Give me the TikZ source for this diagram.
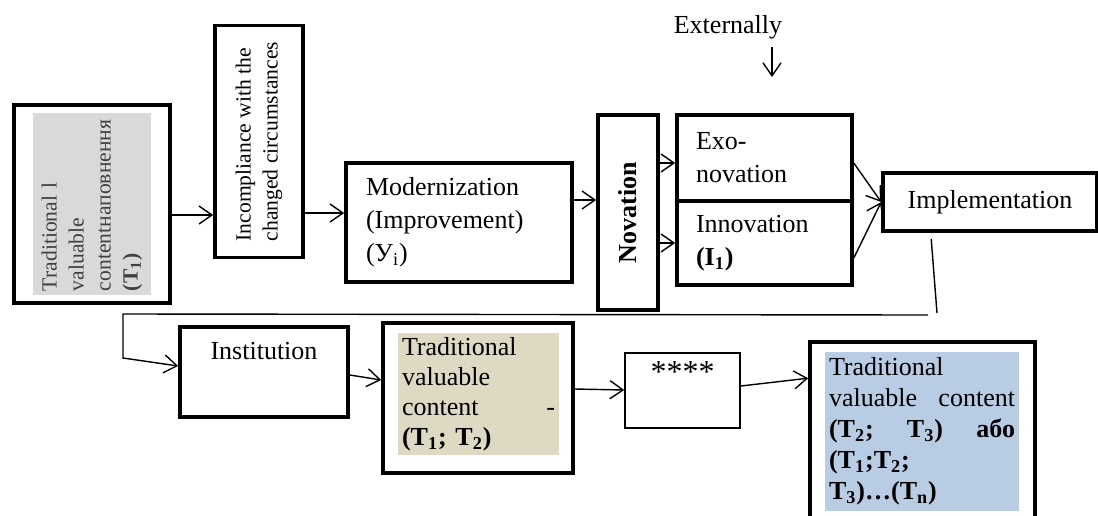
\documentclass[tikz,border=0pt]{standalone}
\usepackage{fontspec}
\setmainfont{Liberation Serif}
\usetikzlibrary{arrows.meta,calc}
\definecolor{greyfill}{HTML}{D9D9D9}
\definecolor{khaki}{HTML}{DDD9C3}
\definecolor{paleblue}{HTML}{B8CCE4}
\tikzset{
  blk/.style={draw, line width=1.8pt, inner sep=0pt},
  thinblk/.style={draw, line width=0.8pt, inner sep=0pt},
  txt/.style={font=\fontsize{13}{16.5}\selectfont, align=left},
  rot/.style={rotate=90, font=\fontsize{10.8}{13.5}\selectfont, align=left},
  arr/.style={-{Straight Barb[length=6.5pt,width=9pt]}, line width=0.7pt},
  ln/.style={line width=0.7pt},
}
\begin{document}
\begin{tikzpicture}[x=0.5pt,y=-0.5pt]
\useasboundingbox (0,0) rectangle (1098,515);
% upper row
\node[blk, minimum width=78pt, minimum height=99pt] at (92,204) (t1) {};
\node[rot, fill=greyfill, text=black!75, minimum width=91pt, minimum height=59pt, text width=87pt, inner sep=2pt] at (92,204) (t1Text) {Traditional l\\valuable\\contentнаповнення\\\textbf{(T\textsubscript{1})}};
\node[blk, minimum width=44pt, minimum height=116pt] at (259,141.5) (incomp) {};
\node[rot] at (incomp) (incompText) {Incompliance with the\\changed circumstances};
\node[blk, txt, minimum width=113pt, minimum height=59.5pt, text width=93pt, inner xsep=10pt] at (459,222.5) (modern) {Modernization\\(Improvement)\\(У\textsubscript{i})};
\node[blk, minimum width=30pt, minimum height=97.5pt] at (628,212.5) (novation) {};
\node[rotate=90, font=\fontsize{13}{16}\selectfont\bfseries] at (novation) (novationText) {Novation};
\node[blk, txt, minimum width=87.5pt, minimum height=43pt, text width=68.5pt, inner xsep=9.5pt] at (764.5,158) (exo) {Exo-\\novation};
\node[blk, txt, minimum width=87.5pt, minimum height=42pt, text width=68.5pt, inner xsep=9.5pt] at (764.5,243) (innov) {Innovation\\\textbf{(I\textsubscript{1})}};
\node[blk, txt, align=center, minimum width=107pt, minimum height=29pt] at (990,202) (impl) {Implementation};
\node[txt] at (728,27) (ext) {Externally};
\coordinate (extTop) at (772,47);
\coordinate (extTip) at (772,77);
% lower row
\node[blk, txt, align=center, minimum width=84pt, minimum height=45pt] at (264,372) (inst) {Institution\\\strut};
\node[blk, minimum width=95pt, minimum height=75pt] at (478,398) (tvc) {};
\node[txt, fill=khaki, minimum width=80.5pt, minimum height=61pt, text width=76.5pt, inner sep=2pt, font=\fontsize{13}{15}\selectfont] at (478.5,394) (tvcText) {Traditional\\valuable\\content\hfill-\\\textbf{(T\textsubscript{1}; T\textsubscript{2})}};
\node[thinblk, txt, align=center, minimum width=57.5pt, minimum height=37.5pt] at (682.5,390.5) (stars) {\fontsize{16}{16.5}\selectfont\raisebox{-3pt}{****}\\\strut};
\node[blk, minimum width=112.5pt, minimum height=94pt] at (922.5,436) (final) {};
\node[txt, fill=paleblue, minimum width=97pt, minimum height=79.5pt, text width=93pt, inner sep=2pt, font=\fontsize{13}{15.5}\selectfont] at (922,431.5) (finalText) {Traditional\\valuable\hfill content\\\textbf{(T\textsubscript{2};\hfill T\textsubscript{3})\hfill або}\\\textbf{(T\textsubscript{1};T\textsubscript{2};}\\\textbf{T\textsubscript{3})\dots(T\textsubscript{n})}};
% connectors
\draw[arr] ($(t1.east)+(0,11)$) -- ($(t1.east -| incomp.west)+(0,11)$);
\draw[arr] ($(incomp.east |- modern.west)+(0,-9.5)$) -- ($(modern.west)+(0,-9.5)$);
\draw[arr] ($(modern.east)+(0,-22.5)$) -- ($(modern.east -| novation.west)+(0,-22.5)$);
\draw[arr] ($(novation.east |- exo.west)+(0,5)$) -- ($(exo.west)+(0,5)$);
\draw[arr] (novation.east |- innov.west) -- (innov.west);
\draw[arr] ($(exo.east)+(0,5)$) -- (impl.west);
\draw[arr] ($(innov.east)+(0,15)$) -- (impl.west);
\draw[arr] (extTop) -- (extTip);
% return to the lower row
\coordinate (dropTop) at ($(impl.south west)+(50,6)$);
\coordinate (dropEnd) at (937,313);
\coordinate (backR) at (928,315);
\coordinate (backL) at (123,314);
\coordinate (backD) at (123,358);
\draw[ln] (dropTop) -- (dropEnd);
\draw[arr] (backR) -- (backL) -- (backD) -- ($(inst.west)+(0,-6)$);
\draw[arr] ($(inst.east)+(0,3)$) -- ($(tvc.west)+(0,-18)$);
\draw[arr] ($(tvc.east)+(0,-9)$) -- ($(stars.west)+(0,-0.5)$);
\draw[arr] ($(stars.east)+(0,-4.5)$) -- ($(final.north west)+(0,38)$);
\end{tikzpicture}
\end{document}
